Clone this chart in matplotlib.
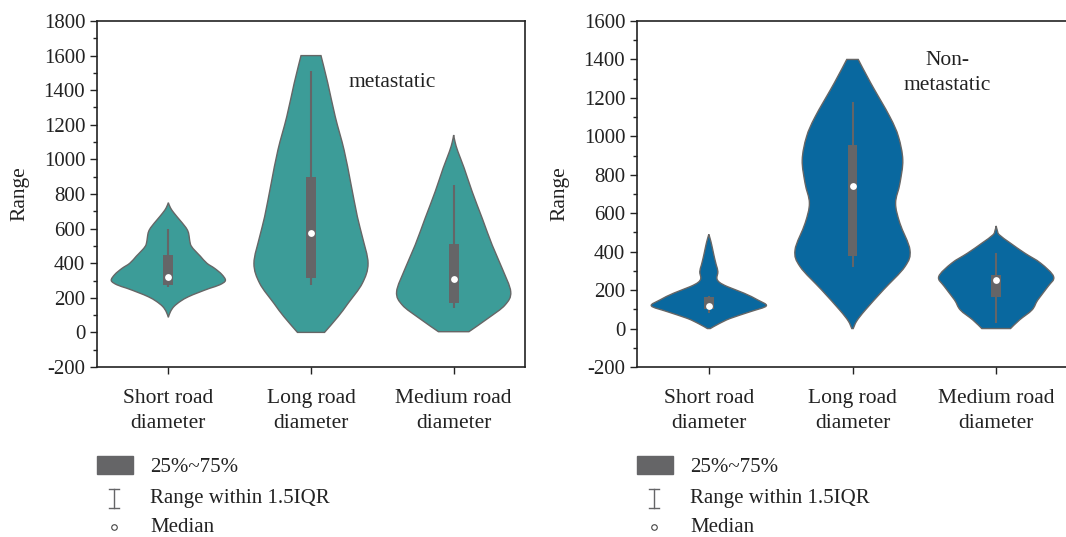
import numpy as np
import matplotlib.pyplot as plt
from matplotlib.patches import Rectangle, PathPatch
from matplotlib.path import Path
from matplotlib.lines import Line2D

plt.rcParams['font.family'] = ['Liberation Serif', 'DejaVu Serif']
plt.rcParams['font.size'] = 15
plt.rcParams['axes.unicode_minus'] = False

categories = ["Short road\ndiameter", "Long road\ndiameter", "Medium road\ndiameter"]

# violin outlines: value levels and half widths (category units)
meta_levels = [
    [87, 120, 150, 180, 206, 230, 255, 275, 300, 335, 370, 400, 440, 470, 500, 530, 560, 590, 620, 650, 690, 720, 750],
    [0, 91, 168, 284, 399, 553, 669, 862, 1054, 1247, 1440, 1600],
    [4, 81, 158, 235, 370, 505, 660, 813, 949, 1045, 1100, 1141],
]
meta_half = [
    [0.0, 0.015, 0.04, 0.085, 0.14, 0.21, 0.29, 0.36, 0.40, 0.375, 0.325, 0.27, 0.225, 0.19, 0.16, 0.15, 0.145, 0.135, 0.11, 0.08, 0.04, 0.015, 0.0],
    [0.095, 0.19, 0.26, 0.36, 0.40, 0.36, 0.325, 0.279, 0.232, 0.17, 0.118, 0.07],
    [0.107, 0.24, 0.36, 0.40, 0.34, 0.27, 0.20, 0.13, 0.074, 0.03, 0.01, 0.0],
]
non_levels = [
    [0, 25, 53, 88, 118, 149, 184, 218, 240, 261, 296, 330, 366, 400, 435, 465, 490],
    [0, 40, 97, 201, 322, 409, 548, 652, 755, 877, 998, 1102, 1276, 1400],
    [0, 45, 97, 149, 218, 270, 340, 392, 444, 487, 510, 534],
]
non_half = [
    [0.01, 0.07, 0.15, 0.29, 0.40, 0.34, 0.245, 0.13, 0.075, 0.056, 0.063, 0.052, 0.04, 0.03, 0.02, 0.01, 0.0],
    [0.005, 0.03, 0.09, 0.215, 0.365, 0.40, 0.33, 0.30, 0.33, 0.35, 0.32, 0.26, 0.128, 0.04],
    [0.1, 0.163, 0.25, 0.29, 0.36, 0.40, 0.31, 0.2, 0.1, 0.023, 0.008, 0.0],
]

# box statistics: q1, median, q3, lower whisker, upper whisker
meta_q1 = [275, 315, 168]
meta_med = [318, 573, 309]
meta_q3 = [445, 898, 512]
meta_lo = [262, 274, 139]
meta_hi = [597, 1513, 852]

non_q1 = [100, 378, 164]
non_med = [119, 743, 253]
non_q3 = [166, 955, 278]
non_lo = [79, 319, 27]
non_hi = [170, 1180, 392]

meta_color = "#3C9C98"
non_color = "#09689F"
box_color = "#656567"
edge_color = "#666666"
text_color = "#222222"

fig = plt.figure(figsize=(10.66, 5.37), dpi=100)
ax1 = fig.add_axes([97 / 1066, 170 / 537, 428 / 1066, 346 / 537])
ax2 = fig.add_axes([637 / 1066, 170 / 537, 431 / 1066, 346 / 537])


def smooth_side(pts):
    # Catmull-Rom through the read points, written as cubic Bezier segments
    verts, codes = [], []
    n = len(pts)
    for k in range(n - 1):
        p0 = pts[max(k - 1, 0)]
        p1 = pts[k]
        p2 = pts[k + 1]
        p3 = pts[min(k + 2, n - 1)]
        c1 = p1 + (p2 - p0) / 6.0
        c2 = p2 - (p3 - p1) / 6.0
        verts += [c1, c2, p2]
        codes += [Path.CURVE4] * 3
    return verts, codes


def violin_path(pos, levels, halves):
    y = np.array(levels, dtype=float)
    h = np.array(halves, dtype=float)
    left = np.column_stack([pos - h, y])
    right = np.column_stack([pos + h, y])[::-1]
    verts = [left[0]]
    codes = [Path.MOVETO]
    v, c = smooth_side(left)
    verts += v
    codes += c
    verts.append(right[0])
    codes.append(Path.LINETO)
    v, c = smooth_side(right)
    verts += v
    codes += c
    verts.append(left[0])
    codes.append(Path.CLOSEPOLY)
    return Path(np.array(verts), codes)


def draw_violins(ax, levels, halves, q1, med, q3, lo, hi, color):
    for i in range(len(levels)):
        pos = i + 1
        patch = PathPatch(violin_path(pos, levels[i], halves[i]), facecolor=color,
                          edgecolor=edge_color, linewidth=1.0, zorder=2)
        ax.add_patch(patch)
        ax.vlines(pos, lo[i], hi[i], color=box_color, linewidth=1.5, zorder=3)
        ax.bar(pos, q3[i] - q1[i], bottom=q1[i], width=0.068, color=box_color, zorder=4)
        ax.scatter([pos], [med[i]], s=24, color="white", zorder=5, linewidths=0)


draw_violins(ax1, meta_levels, meta_half, meta_q1, meta_med, meta_q3, meta_lo, meta_hi, meta_color)
draw_violins(ax2, non_levels, non_half, non_q1, non_med, non_q3, non_lo, non_hi, non_color)

for ax, top in [(ax1, 1800), (ax2, 1600)]:
    ax.set_xlim(0.5, 3.5)
    ax.set_ylim(-200, top)
    ax.set_xticks([1, 2, 3])
    ax.set_xticklabels(categories, fontsize=15.5, linespacing=1.38)
    ax.set_yticks(np.arange(-200, top + 1, 200))
    ax.set_yticks(np.arange(-200, top + 1, 100), minor=True)
    ax.tick_params(axis='y', which='major', length=5, width=1, labelsize=15, colors=text_color)
    ax.tick_params(axis='y', which='minor', length=3, width=1, colors=text_color)
    ax.tick_params(axis='x', length=5, width=1, pad=11, labelsize=15.5, colors=text_color)
    ax.set_ylabel("Range", fontsize=15.5, labelpad=10, color=text_color)
    for s in ax.spines.values():
        s.set_linewidth(1.2)
        s.set_color(text_color)

ax1.text(2.57, 1445, "metastatic", ha='center', va='center', fontsize=15.5, color=text_color)
ax2.text(2.66, 1330, "Non-\nmetastatic", ha='center', va='center', fontsize=15.5,
         linespacing=1.38, color=text_color)

# legends under each panel
for x0 in [97, 637]:
    fig.patches.append(Rectangle((x0 / 1066, 1 - 474 / 537), 36 / 1066, 18 / 537,
                                 transform=fig.transFigure, color=box_color))
    fig.text((x0 + 53) / 1066, 1 - 468 / 537, "25%~75%", va='center', fontsize=15, color=text_color)
    xc = (x0 + 17) / 1066
    fig.lines.append(Line2D([xc, xc], [1 - 489 / 537, 1 - 508 / 537], transform=fig.transFigure,
                            color=box_color, lw=1))
    for yy in [489, 508]:
        fig.lines.append(Line2D([(x0 + 12) / 1066, (x0 + 22) / 1066], [1 - yy / 537, 1 - yy / 537],
                                transform=fig.transFigure, color=box_color, lw=1))
    fig.text((x0 + 53) / 1066, 1 - 499 / 537, "Range within 1.5IQR", va='center', fontsize=15,
             color=text_color)
    fig.lines.append(Line2D([xc], [1 - 527 / 537], transform=fig.transFigure, marker='o',
                            markersize=4, markerfacecolor='white', markeredgecolor='#444444',
                            markeredgewidth=0.8, linestyle='none'))
    fig.text((x0 + 53) / 1066, 1 - 527 / 537, "Median", va='center', fontsize=15, color=text_color)

fig.savefig("out.png", dpi=100)
